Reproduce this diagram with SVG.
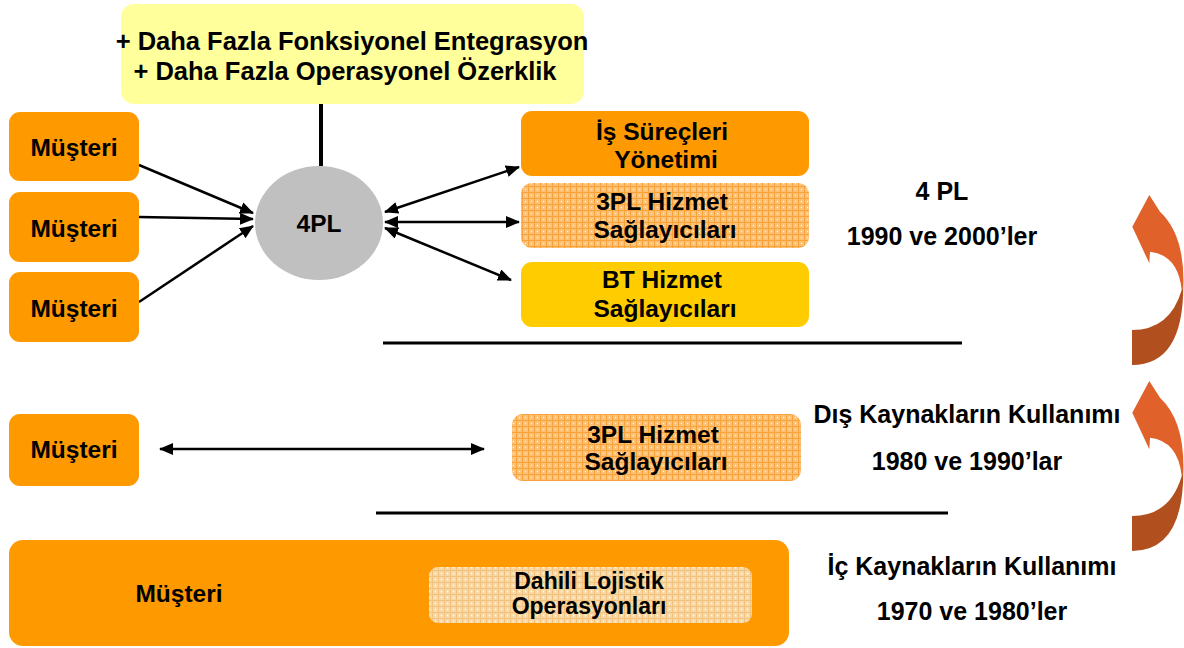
<svg xmlns="http://www.w3.org/2000/svg" width="1184" height="648" viewBox="0 0 1184 648">
<style>
  text { font-family: "Liberation Sans", Arial, sans-serif; font-weight: bold; font-size: 24.5px; fill: #000; text-anchor: middle; }
  .big { font-size: 25.5px; }
  .side { font-size: 25px; }
  .small { font-size: 23px; }
  .org { fill: #FF9900; }
  .conn { stroke: #000; stroke-width: 2.5; fill: none; }
  .rule { stroke: #000; stroke-width: 3; }
</style>
<defs>
  <marker id="ah" viewBox="0 0 14 12" refX="13" refY="6" markerWidth="14" markerHeight="12" markerUnits="userSpaceOnUse" orient="auto-start-reverse">
    <path d="M0,0 L14,6 L0,12 Z" fill="#000"/>
  </marker>
  <pattern id="grid3pl" width="6" height="6" patternUnits="userSpaceOnUse">
    <rect width="6" height="6" fill="#FDC27A"/>
    <path d="M0,0.5 H6 M0.5,0 V6" stroke="#F8A23A" stroke-width="1"/>
    <circle cx="3.5" cy="3.5" r="0.6" fill="#FFFFFF"/>
  </pattern>
  <pattern id="gridDahili" width="6" height="6" patternUnits="userSpaceOnUse">
    <rect width="6" height="6" fill="#F6D9A6"/>
    <path d="M0,0.5 H6 M0.5,0 V6" stroke="#F2C27E" stroke-width="1"/>
    <circle cx="3.5" cy="3.5" r="0.7" fill="#FFFFFF"/>
  </pattern>
  <g id="curvedArrow">
    <path d="M1132.3,226.7 L1149.3,195 L1160,211.7 Q1185,235 1183.3,286.7 L1181.7,290 Q1178,255 1150,251.7 L1149.3,263.3 Z" fill="#E0622A"/>
    <path d="M1183.3,286.7 Q1183,365 1132,365 L1132,330 Q1170,330 1181.7,290 Z" fill="#B24F1E"/>
  </g>
</defs>

<g id="yellow-box">
  <rect x="121" y="4" width="463" height="100" rx="13" fill="#FFFF9C"/>
  <text class="big" x="352" y="50">+ Daha Fazla Fonksiyonel Entegrasyon</text>
  <text class="big" x="345" y="80">+ Daha Fazla Operasyonel Özerklik</text>
</g>

<g id="connectors">
  <line class="rule" x1="321" y1="104" x2="321" y2="166" style="stroke-width:4"/>
  <line class="conn" x1="139" y1="165" x2="253" y2="213" marker-end="url(#ah)"/>
  <line class="conn" x1="139" y1="217" x2="253" y2="219" marker-end="url(#ah)"/>
  <line class="conn" x1="139" y1="302" x2="253" y2="226" marker-end="url(#ah)"/>
  <line class="conn" x1="385" y1="212" x2="519" y2="167" marker-start="url(#ah)" marker-end="url(#ah)"/>
  <line class="conn" x1="385" y1="222" x2="519" y2="222" marker-start="url(#ah)" marker-end="url(#ah)"/>
  <line class="conn" x1="385" y1="228" x2="511" y2="280" marker-start="url(#ah)" marker-end="url(#ah)"/>
  <line class="conn" x1="160" y1="449" x2="484" y2="449" marker-start="url(#ah)" marker-end="url(#ah)"/>
  <line class="rule" x1="383" y1="343" x2="962" y2="343"/>
  <line class="rule" x1="376" y1="513" x2="948" y2="513"/>
</g>

<g id="node-4pl">
  <ellipse cx="319" cy="223" rx="64" ry="57" fill="#C0C0C0"/>
  <text x="319" y="232">4PL</text>
</g>

<g id="musteri-1">
  <rect class="org" x="9" y="112" width="130" height="69" rx="11"/>
  <text x="74" y="156">Müşteri</text>
</g>
<g id="musteri-2">
  <rect class="org" x="9" y="192" width="130" height="70" rx="11"/>
  <text x="74" y="237">Müşteri</text>
</g>
<g id="musteri-3">
  <rect class="org" x="9" y="272" width="130" height="70" rx="11"/>
  <text x="74" y="317">Müşteri</text>
</g>

<g id="is-surecleri">
  <rect x="521" y="111" width="288" height="65" rx="11" fill="#FF9900"/>
  <text x="662" y="140">İş Süreçleri</text>
  <text x="666" y="168">Yönetimi</text>
</g>
<g id="3pl-top">
  <rect x="521" y="183" width="288" height="65" rx="11" fill="url(#grid3pl)"/>
  <text x="662" y="210">3PL Hizmet</text>
  <text x="665" y="238">Sağlayıcıları</text>
</g>
<g id="bt-hizmet">
  <rect x="521" y="262" width="288" height="65" rx="11" fill="#FFCC00"/>
  <text x="662" y="288">BT Hizmet</text>
  <text x="665" y="317">Sağlayıcıları</text>
</g>

<g id="label-4pl">
  <text class="side" x="942" y="200">4 PL</text>
  <text class="side" x="942" y="245">1990 ve 2000’ler</text>
</g>

<g id="musteri-mid">
  <rect class="org" x="9" y="414" width="130" height="72" rx="11"/>
  <text x="74" y="458">Müşteri</text>
</g>
<g id="3pl-mid">
  <rect x="512" y="414" width="289" height="67" rx="11" fill="url(#grid3pl)"/>
  <text x="653" y="443">3PL Hizmet</text>
  <text x="656" y="470">Sağlayıcıları</text>
</g>

<g id="label-dis">
  <text class="side" x="967" y="423">Dış Kaynakların Kullanımı</text>
  <text class="side" x="967" y="470">1980 ve 1990’lar</text>
</g>

<g id="musteri-bottom">
  <rect class="org" x="9" y="540" width="780" height="106" rx="14"/>
  <text x="179" y="602">Müşteri</text>
</g>
<g id="dahili">
  <rect x="429" y="567" width="323" height="56" rx="9" fill="url(#gridDahili)"/>
  <text class="small" x="589" y="589">Dahili Lojistik</text>
  <text class="small" x="589" y="614">Operasyonları</text>
</g>

<g id="label-ic">
  <text class="side" x="972" y="575">İç Kaynakların Kullanımı</text>
  <text class="side" x="972" y="620">1970 ve 1980’ler</text>
</g>

<g id="curved-arrow-upper">
  <use href="#curvedArrow"/>
</g>
<g id="curved-arrow-lower">
  <use href="#curvedArrow" transform="translate(0,186)"/>
</g>
</svg>
